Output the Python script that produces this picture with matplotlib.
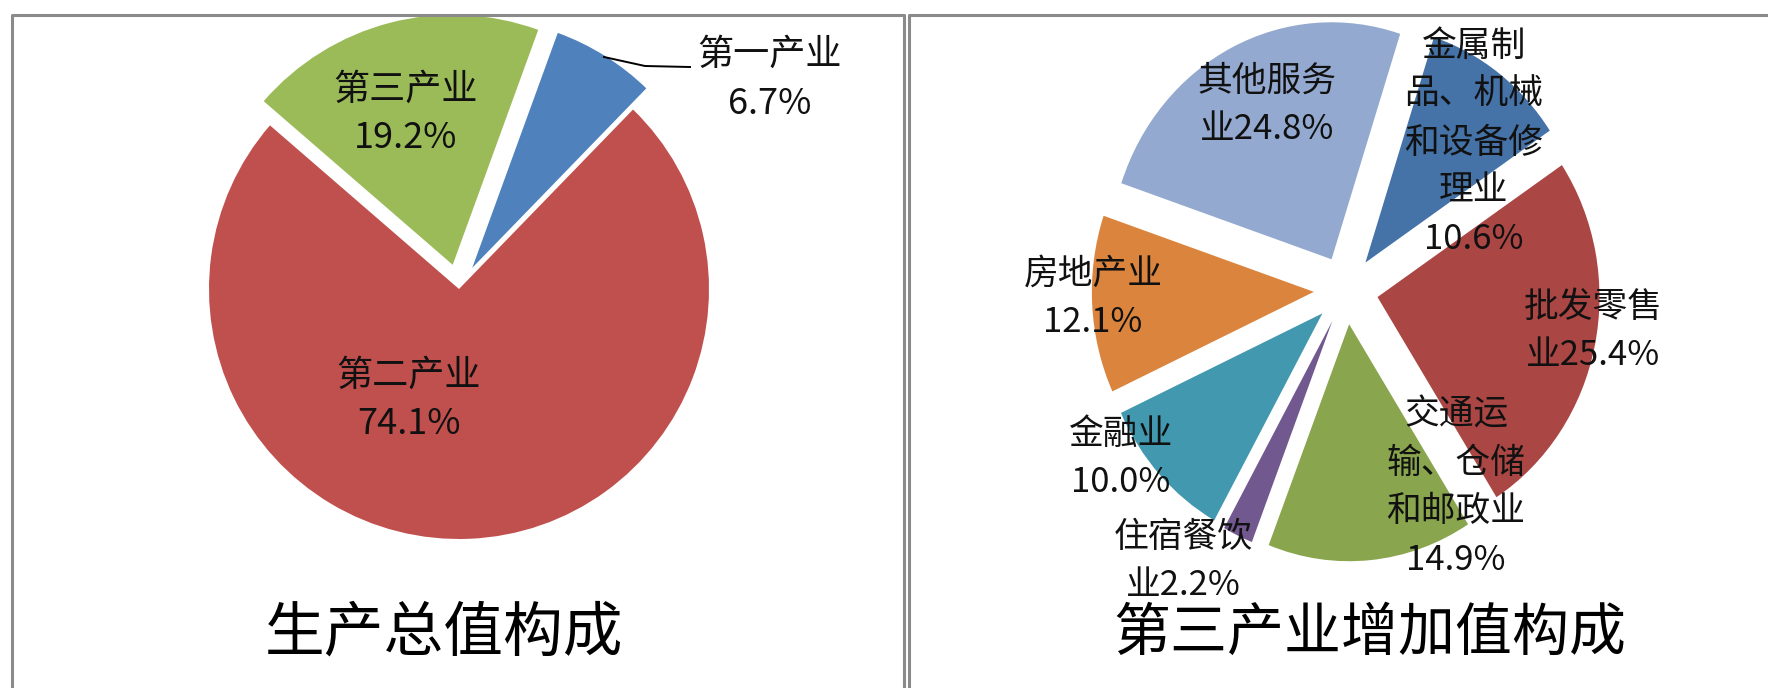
import matplotlib
matplotlib.use('Agg')
from matplotlib import pyplot as plt
from matplotlib.lines import Line2D

plt.rcParams['font.family'] = ['Noto Sans CJK SC', 'DejaVu Sans']

# data
left_title = '生产总值构成'
left_names = ['第一产业', '第二产业', '第三产业']
left_values = [6.7, 74.1, 19.2]
left_colors = ['#4F81BD', '#C0504D', '#9BBB59']
left_explode = [0.1, 0.0, 0.1]

right_title = '第三产业增加值构成'
right_names = ['金属制\n品、机械\n和设备修\n理业', '批发零售\n业', '交通运\n输、仓储\n和邮政业',
               '住宿餐饮\n业', '金融业', '房地产业', '其他服务\n业']
right_sep = ['\n', '', '\n', '', '\n', '\n', '']
right_values = [10.6, 25.4, 14.9, 2.2, 10.0, 12.1, 24.8]
right_colors = ['#4572A7', '#AA4643', '#89A54E', '#71588F', '#4198AF', '#DB843D', '#93A9CF']

W, H = 1768, 688
fig = plt.figure(figsize=(W / 100, H / 100), dpi=100)


def fx(x, y):
    return x / W, 1 - y / H


def pie_axes(cx, cy, rx, ry):
    ax = fig.add_axes([0, 0, 1, 1])
    ax.patch.set_alpha(0)
    return ax, ((0 - cx) / rx, (W - cx) / rx), ((cy - H) / ry, cy / ry)


def draw_label(text, x, y, size, step=48.5):
    for i, line in enumerate(text.split('\n')):
        fig.text(*fx(x, y + i * step), line, ha='center', va='center',
                 fontsize=size, color='#111111')


# left pie
ax, xl, yl = pie_axes(459, 289, 250, 250)
ax.pie(left_values, colors=left_colors, explode=left_explode, startangle=70,
       counterclock=False, wedgeprops=dict(linewidth=0))
ax.set_aspect('auto')
ax.set_xlim(*xl)
ax.set_ylim(*yl)
ax.axis('off')

left_pos = [(770, 55), (409, 376), (406, 90)]
for name, v, (x, y) in zip(left_names, left_values, left_pos):
    draw_label(f'{name}\n{v}%', x, y, 26)

# leader line for the small slice
xs, ys = zip(*[fx(604, 57), fx(645, 66), fx(690, 67)])
fig.add_artist(Line2D(xs, ys, color='black', lw=1.4, transform=fig.transFigure))

fig.text(*fx(444, 634), left_title, ha='center', va='center', fontsize=43)

# right pie
ax2, xl, yl = pie_axes(1346, 290, 222, 237)
ax2.pie(right_values, colors=right_colors, explode=[0.145] * len(right_values),
        startangle=72, counterclock=False, wedgeprops=dict(linewidth=0))
ax2.set_aspect('auto')
ax2.set_xlim(*xl)
ax2.set_ylim(*yl)
ax2.axis('off')

right_pos = [(1474, 46), (1593, 307), (1456, 415), (1183, 537),
             (1121, 434), (1093, 274), (1267, 81)]
for name, sep, v, (x, y) in zip(right_names, right_sep, right_values, right_pos):
    draw_label(f'{name}{sep}{v}%', x, y, 25)

fig.text(*fx(1370, 634), right_title, ha='center', va='center', fontsize=41)

# panel borders
border = dict(color='#8a8a8a', lw=2.2, transform=fig.transFigure, solid_capstyle='butt')
for pts in ([(11.5, H), (11.5, 15), (904, 15), (904, H)],
            [(909.5, H), (909.5, 15), (W, 15)]):
    xs, ys = zip(*[fx(x, y) for x, y in pts])
    fig.add_artist(Line2D(xs, ys, **border))

fig.savefig('out.png', dpi=100)
